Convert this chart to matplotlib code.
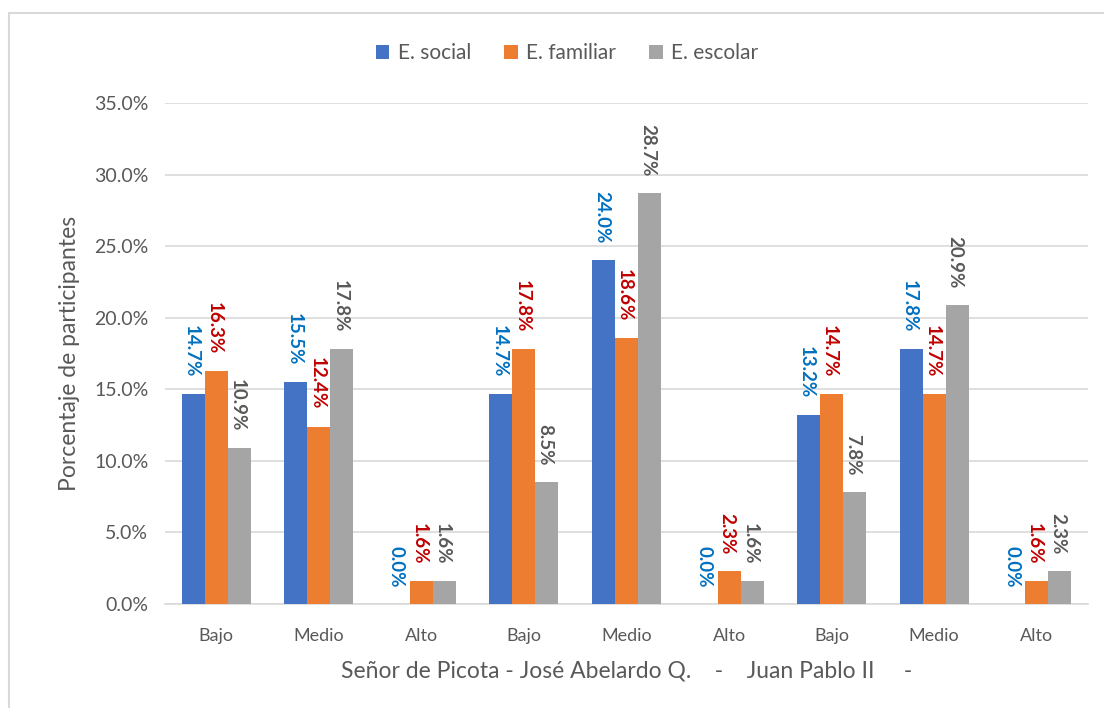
import numpy as np
import matplotlib
matplotlib.use('Agg')
import matplotlib.pyplot as plt
from matplotlib.patches import Rectangle

plt.rcParams['font.family'] = ['Lato', 'DejaVu Sans']

# data
categorias = ['Bajo', 'Medio', 'Alto', 'Bajo', 'Medio', 'Alto', 'Bajo', 'Medio', 'Alto']
e_social = [14.7, 15.5, 0.0, 14.7, 24.0, 0.0, 13.2, 17.8, 0.0]
e_familiar = [16.3, 12.4, 1.6, 17.8, 18.6, 2.3, 14.7, 14.7, 1.6]
e_escolar = [10.9, 17.8, 1.6, 8.5, 28.7, 1.6, 7.8, 20.9, 2.3]
series = ['E. social', 'E. familiar', 'E. escolar']
colores = ['#4472C4', '#ED7D31', '#A5A5A5']
col_etiq = ['#0070C0', '#C00000', '#595959']
x_titulo = 'Señor de Picota - José Abelardo Q.    -    Juan Pablo II     -'
y_titulo = 'Porcentaje de participantes'

fig = plt.figure(figsize=(11.04, 7.08), dpi=100)
ax = fig.add_axes([165/1104, 1-604/708, (1088-165)/1104, (604-103)/708])

# outer chart border (only top/left visible in the reference)
fig.patches.append(Rectangle((9/1104, -0.1), 1.2, 1 - 13/708 + 0.1,
                             transform=fig.transFigure, fill=False,
                             edgecolor='#D9D9D9', linewidth=1.5))

x = np.arange(len(categorias))
w = 0.224
valores = [e_social, e_familiar, e_escolar]
for i, (vals, nombre) in enumerate(zip(valores, series)):
    pos = x + (i - 1) * w
    ax.bar(pos, vals, width=w, color=colores[i], label=nombre, zorder=3)
    for p, v in zip(pos, vals):
        ax.annotate(f'{v:.1f}%', (p, v), xytext=(-1.5, 12), textcoords='offset points',
                    rotation=270, ha='center', va='bottom', fontsize=13.5,
                    fontweight='bold', color=col_etiq[i])

ax.set_xlim(-0.5, len(categorias) - 0.5)
ax.set_ylim(0, 35)
ax.set_yticks(np.arange(0, 36, 5))
ax.set_yticklabels([f'{t:.1f}%' for t in np.arange(0, 36, 5)])
ax.set_xticks(x)
ax.set_xticklabels(categorias)
ax.tick_params(axis='y', labelsize=14, colors='#595959', length=0, pad=12)
ax.tick_params(axis='x', labelsize=13, colors='#595959', length=0, pad=17)
ax.grid(axis='y', color='#D9D9D9', linewidth=1.2, zorder=0)
for s in ['top', 'right', 'left']:
    ax.spines[s].set_visible(False)
ax.spines['bottom'].set_color('#D9D9D9')
ax.spines['bottom'].set_linewidth(1.2)

ax.set_xlabel(x_titulo, fontsize=16.5, color='#595959', labelpad=12)
ax.set_ylabel(y_titulo, fontsize=16.5, color='#595959', labelpad=10)

fig.legend(loc='center', bbox_to_anchor=(567/1104, 1-53/708), ncol=3, frameon=False,
           fontsize=15, labelcolor='#595959', handlelength=0.65, handleheight=0.65,
           handletextpad=0.4, columnspacing=1.6)

fig.savefig('out.png', dpi=100)
